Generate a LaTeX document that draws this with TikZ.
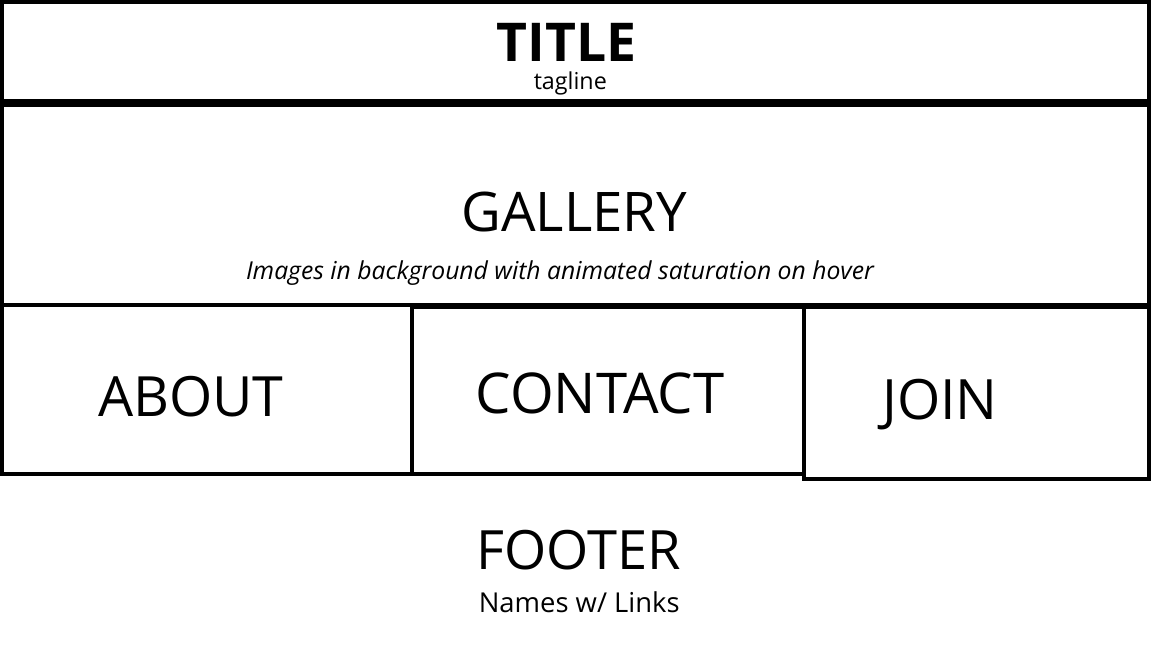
\documentclass[tikz,border=0pt]{standalone}
\usepackage{fontspec}
\setmainfont{Open Sans}
\begin{document}
\begin{tikzpicture}[x=1pt,y=-1pt,
  box/.style={draw=black,line width=4pt},
  lbl/.style={inner sep=0pt,outer sep=0pt,anchor=base,text=black}]
\useasboundingbox[fill=white] (0,0) rectangle (1152,648);
\draw[box] (2,2) rectangle (1149,101);
\draw[box] (2,105) rectangle (1149,305);
\draw[box] (2,305) rectangle (411.5,474);
\draw[box] (411.5,306.5) rectangle (804,473.5);
\draw[box] (804,306.5) rectangle (1149,478.5);
\node[lbl] (title) at (566.7,61) {\fontsize{53.5}{53.5}\selectfont\bfseries TITLE};
\node[lbl] (tag) at (570.3,89.5) {\fontsize{23.3}{23.3}\selectfont tagline};
\node[lbl] (gallery) at (574.2,231.7) {\fontsize{54.6}{54.6}\selectfont GALLERY};
\node[lbl] (gsub) at (560,279) {\fontsize{24.7}{24.7}\selectfont\itshape Images in background with animated saturation on hover};
\node[lbl] (about) at (190.8,416.7) {\fontsize{55.5}{55.5}\selectfont ABOUT};
\node[lbl] (contact) at (600,413.3) {\fontsize{56.2}{56.2}\selectfont CONTACT};
\node[lbl] (join) at (940,419.3) {\fontsize{55.6}{55.6}\selectfont JOIN};
\node[lbl] (footer) at (579,569) {\fontsize{54.2}{54.2}\selectfont FOOTER};
\node[lbl] (names) at (579.2,612.3) {\fontsize{27.4}{27.4}\selectfont Names w/ Links};
\end{tikzpicture}
\end{document}
